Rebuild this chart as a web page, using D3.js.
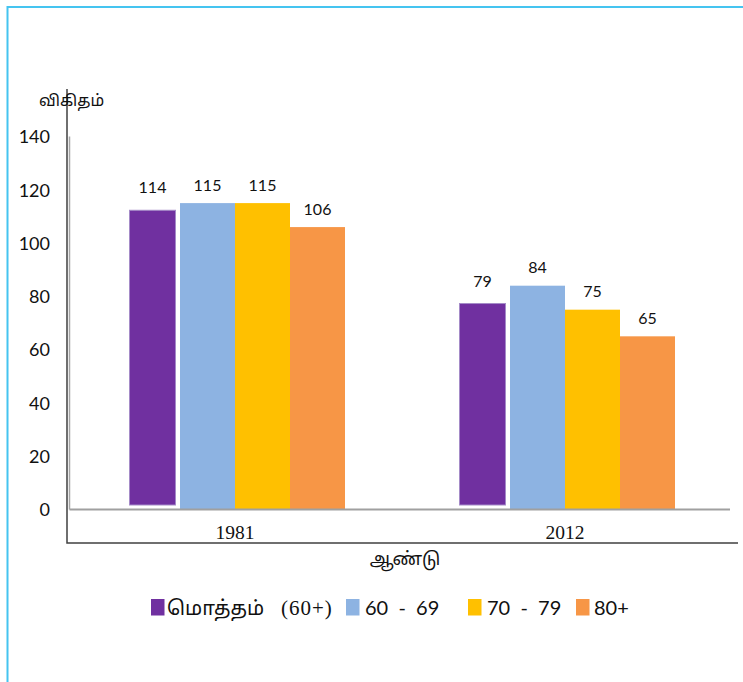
<!DOCTYPE html>
<html>
<head>
<meta charset="utf-8">
<script src="https://cdn.jsdelivr.net/npm/d3@7"></script>
<style>
  html, body { margin: 0; padding: 0; background: #fff; }
  svg { display: block; }
</style>
</head>
<body>
<svg id="chart" width="743" height="682"></svg>
<script>
// ---- data ----
const categories = ["1981", "2012"];
const seriesNames = ["மொத்தம்", "60  -  69", "70  -  79", "80+"];
const seriesColors = ["#7030A0", "#8DB3E2", "#FFC000", "#F79646"];
const values1981 = [114, 115, 115, 106];
const values2012 = [79, 84, 75, 65];
const yTicks = [0, 20, 40, 60, 80, 100, 120, 140];
const yTitle = "விகிதம்";
const xTitle = "ஆண்டு";

const table = categories.map((c, i) => ({
  cat: c,
  vals: (i === 0 ? values1981 : values2012).map((v, j) => ({ s: j, v }))
}));

const svg = d3.select("#chart");
const numFont = "Lato, 'Open Sans', sans-serif";
const tamilFont = "'Noto Sans Tamil', 'Lohit Tamil', 'Latha', 'Noto Sans', sans-serif";
const serifFont = "'Liberation Serif', 'Times New Roman', serif";

// frame (light blue border)
svg.append("line").attr("x1", 7.5).attr("x2", 743).attr("y1", 7).attr("y2", 7)
  .attr("stroke", "#45C4F0").attr("stroke-width", 2);
svg.append("line").attr("x1", 7.5).attr("x2", 7.5).attr("y1", 6).attr("y2", 682)
  .attr("stroke", "#45C4F0").attr("stroke-width", 2);

// scales
const y = d3.scaleLinear().domain([0, 140]).range([509.5, 136.5]);
const x0 = d3.scaleBand().domain(categories).range([70, 730]).paddingInner(0).paddingOuter(0);
const x1 = d3.scaleBand().domain(d3.range(seriesNames.length)).range([0, x0.bandwidth()])
  .paddingInner(0).paddingOuter(1);

// outer black L axis
svg.append("path")
  .attr("d", `M67,89 L67,543 L738,543`)
  .attr("fill", "none").attr("stroke", "#404040").attr("stroke-width", 1.5);

// gray inner axes
svg.append("line").attr("x1", 69.5).attr("x2", 69.5).attr("y1", y(140)).attr("y2", y(0))
  .attr("stroke", "#A6A6A6").attr("stroke-width", 1.5);

// y tick labels (via axis)
const yAxis = d3.axisLeft(y).tickValues(yTicks).tickSize(0).tickPadding(0);
const gy = svg.append("g").attr("transform", "translate(50,0)").call(yAxis);
gy.select(".domain").remove();
gy.selectAll("text").attr("font-family", numFont).attr("font-size", 18).attr("fill", "#111")
  .attr("dy", "0.35em");

// bars
const groups = svg.selectAll("g.grp").data(table).join("g")
  .attr("class", "grp")
  .attr("transform", d => `translate(${x0(d.cat)},0)`);

groups.selectAll("rect").data(d => d.vals).join("rect")
  .attr("x", d => x1(d.s) + (d.s === 0 ? 4.5 : 0))
  .attr("width", d => x1.bandwidth() - (d.s === 0 ? 9 : 0))
  .attr("y", d => y(d.v) + (d.s === 0 ? 4.5 : 0))
  .attr("height", d => y(0) - y(d.v) - (d.s === 0 ? 9 : 0))
  .attr("fill", d => seriesColors[d.s])
  .attr("stroke", d => d.s === 0 ? "#A58BC8" : "none")
  .attr("stroke-width", 1);

groups.selectAll("text.val").data(d => d.vals).join("text")
  .attr("class", "val")
  .attr("x", d => x1(d.s) + x1.bandwidth() / 2)
  .attr("y", d => y(d.v) - 18)
  .attr("dy", "0.35em")
  .attr("text-anchor", "middle")
  .attr("font-family", numFont).attr("font-size", 16).attr("fill", "#111")
  .text(d => d.v);

// gray baseline
svg.append("line").attr("x1", 69.5).attr("x2", 730).attr("y1", y(0)).attr("y2", y(0))
  .attr("stroke", "#A0A0A0").attr("stroke-width", 2);

// category labels
const xAxis = d3.axisBottom(x0).tickSize(0).tickPadding(0);
const gx = svg.append("g").attr("transform", "translate(0,532)").call(xAxis);
gx.select(".domain").remove();
gx.selectAll("text").attr("font-family", serifFont).attr("font-size", 19.5).attr("fill", "#111")
  .attr("dy", "0.35em").attr("y", 0);

// axis titles
svg.append("text").attr("x", 39).attr("y", 100).attr("dy", "0.35em")
  .attr("font-family", tamilFont).attr("font-size", 16).attr("fill", "#111").text(yTitle);
svg.append("text").attr("x", 405).attr("y", 559).attr("dy", "0.35em").attr("text-anchor", "middle")
  .attr("font-family", tamilFont).attr("font-size", 18).attr("fill", "#111").text(xTitle);

// legend
const legendX = [151, 346, 468, 576];
const legendGap = [16, 19, 19, 18];
const lg = svg.append("g");
seriesNames.forEach((name, i) => {
  lg.append("rect").attr("x", legendX[i]).attr("y", 599).attr("width", 13.5).attr("height", 16.5)
    .attr("fill", seriesColors[i]);
  const t = lg.append("text").attr("x", legendX[i] + legendGap[i]).attr("y", 607.5).attr("dy", "0.35em")
    .attr("font-size", 20).attr("fill", "#111")
    .attr("font-family", i === 0 ? tamilFont : numFont)
    .attr("xml:space", "preserve")
    .style("white-space", "pre");
  t.text(name);
  if (i === 0) {
    lg.append("text").attr("x", 281).attr("y", 607.5).attr("dy", "0.35em")
      .attr("font-family", serifFont).attr("font-size", 21).attr("fill", "#111")
      .attr("letter-spacing", 1).text("(60+)");
  }
});
</script>
</body>
</html>
